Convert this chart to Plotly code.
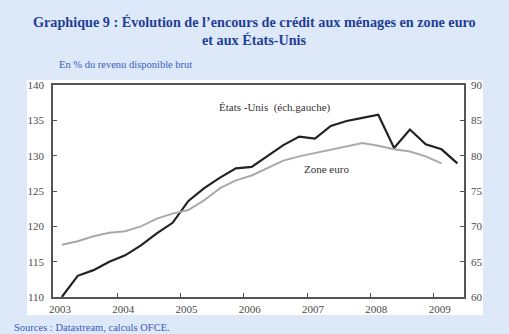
import plotly.graph_objects as go

quarters = ["2003T1","2003T2","2003T3","2003T4","2004T1","2004T2","2004T3","2004T4",
            "2005T1","2005T2","2005T3","2005T4","2006T1","2006T2","2006T3","2006T4",
            "2007T1","2007T2","2007T3","2007T4","2008T1","2008T2","2008T3","2008T4",
            "2009T1","2009T2"]
us_values = [110.0, 113.0, 113.8, 115.0, 115.9, 117.3, 119.0, 120.5,
             123.6, 125.4, 126.9, 128.2, 128.4, 130.0, 131.5, 132.7,
             132.4, 134.2, 134.9, 135.35, 135.8, 131.1, 133.7, 131.6,
             130.9, 128.9]
euro_values = [67.4, 67.9, 68.6, 69.1, 69.3, 70.0, 71.1, 71.8,
               72.3, 73.7, 75.4, 76.5, 77.2, 78.3, 79.3, 79.9,
               80.4, 80.9, 81.4, 81.8, 81.4, 80.9, 80.6, 79.9,
               78.9]
year_ticks = [2003, 2004, 2005, 2006, 2007, 2008, 2009]
left_ticks = [110, 115, 120, 125, 130, 135, 140]
right_ticks = [60, 65, 70, 75, 80, 85, 90]

def qpos(q):
    return int(q[:4]) + (int(q[-1]) - 0.5) / 4

x_us = [qpos(q) for q in quarters]
x_eu = [qpos(q) for q in quarters[:len(euro_values)]]

SERIF = "Liberation Serif, Times New Roman, serif"
BG = "#dde8f8"
AXC = "#555555"
TICKC = "#4a4a4a"

fig = go.Figure()
fig.add_trace(go.Scatter(x=x_eu, y=euro_values, mode="lines", yaxis="y2",
                         line=dict(color="#a9a9a9", width=2), showlegend=False))
fig.add_trace(go.Scatter(x=x_us, y=us_values, mode="lines",
                         line=dict(color="#222222", width=2.2), showlegend=False))

fig.update_layout(
    width=509, height=334,
    margin=dict(l=53, r=45, t=85, b=37),
    paper_bgcolor=BG, plot_bgcolor="rgba(0,0,0,0)",
    font=dict(family=SERIF, size=11, color=TICKC),
    xaxis=dict(range=[2002.985, 2009.48], tickvals=year_ticks,
               ticktext=[str(y) for y in year_ticks],
               ticks="inside", ticklen=4, tickcolor=AXC, tickwidth=1,
               showline=True, linecolor=AXC, linewidth=1.5, mirror=True,
               showgrid=False, zeroline=False, ticklabelshift=6, ticklabelstandoff=1,
               tickfont=dict(family=SERIF, size=11, color=TICKC)),
    yaxis=dict(range=[110, 140], tickvals=left_ticks,
               ticks="inside", ticklen=4, tickcolor=AXC, tickwidth=1,
               showline=True, linecolor=AXC, linewidth=1.5,
               showgrid=False, zeroline=False, ticklabelstandoff=5,
               tickfont=dict(family=SERIF, size=11, color=TICKC)),
    yaxis2=dict(range=[60, 90], tickvals=right_ticks, overlaying="y", side="right",
                ticks="inside", ticklen=4, tickcolor=AXC, tickwidth=1,
                showline=True, linecolor=AXC, linewidth=1.5,
                showgrid=False, zeroline=False, ticklabelstandoff=3,
                tickfont=dict(family=SERIF, size=11, color=TICKC)),
    shapes=[dict(type="rect", xref="paper", yref="paper",
                 x0=-0.0633, x1=1.0462, y0=-0.0849, y1=1.0236,
                 fillcolor="white", line=dict(width=0), layer="below")],
)

TITLE_C = "#1f3f96"
fig.add_annotation(xref="paper", yref="paper", x=0.491, y=1.297, showarrow=False,
                   text="<b>Graphique 9 : Évolution de l’encours de crédit aux ménages en zone euro</b>",
                   font=dict(family=SERIF, size=14.2, color=TITLE_C), xanchor="center", yanchor="middle")
fig.add_annotation(xref="paper", yref="paper", x=0.491, y=1.212, showarrow=False,
                   text="<b>et aux États-Unis</b>",
                   font=dict(family=SERIF, size=14.2, color=TITLE_C), xanchor="center", yanchor="middle")
fig.add_annotation(xref="paper", yref="paper", x=0.0097, y=1.099, showarrow=False,
                   text="En % du revenu disponible brut",
                   font=dict(family=SERIF, size=10.5, color="#3a5cc0"), xanchor="left", yanchor="middle")
fig.add_annotation(xref="paper", yref="paper", x=-0.0998, y=-0.142, showarrow=False,
                   text="Sources : Datastream, calculs OFCE.",
                   font=dict(family=SERIF, size=10.5, color="#3a5cc0"), xanchor="left", yanchor="middle")
fig.add_annotation(x=2006.50, y=136.8, showarrow=False,
                   text="États\u00a0-Unis\u00a0\u00a0(éch.gauche)",
                   font=dict(family=SERIF, size=11, color="#333333"))
fig.add_annotation(x=2007.30, y=128.05, showarrow=False, text="Zone euro",
                   font=dict(family=SERIF, size=11, color="#333333"))

fig.write_html("out.html")
